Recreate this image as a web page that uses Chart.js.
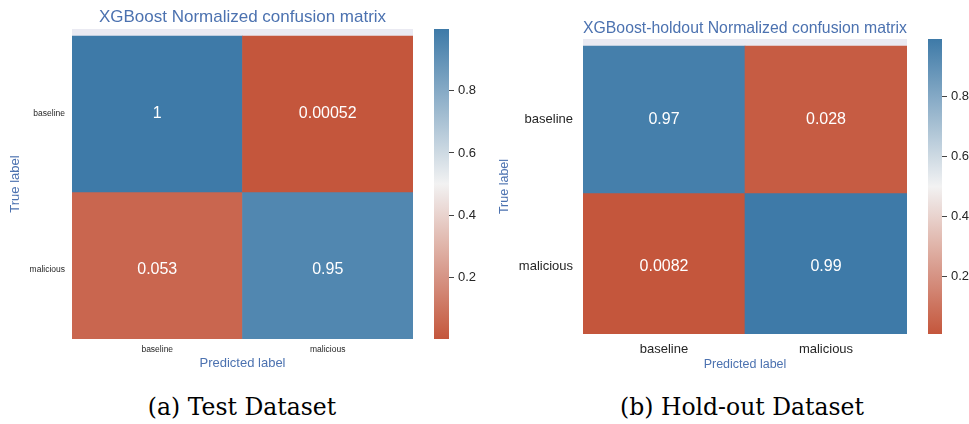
<!DOCTYPE html>
<html><head><meta charset="utf-8">
<script src="https://cdn.jsdelivr.net/npm/chart.js@4.4.1/dist/chart.umd.min.js"></script>
<style>
html,body{margin:0;padding:0;background:#fff;}
#wrap{position:relative;width:969px;height:424px;overflow:hidden;background:#fff;}
canvas{position:absolute;top:0;}
.cap{position:absolute;top:393px;font-family:"DejaVu Serif",serif;font-size:23.5px;color:#000;white-space:nowrap;transform:translateX(-50%);}
</style></head><body>
<div id="wrap">
<canvas id="hmA" width="413" height="380" style="left:0px"></canvas>
<canvas id="cbA" width="60" height="380" style="left:430px"></canvas>
<canvas id="hmB" width="417" height="380" style="left:490px"></canvas>
<canvas id="cbB" width="51" height="380" style="left:918px"></canvas>
<div class="cap" style="left:242px">(a) Test Dataset</div>
<div class="cap" style="left:742px">(b) Hold-out Dataset</div>
</div>
<script>
// ---- data ----
const predictedLabels = ['baseline', 'malicious'];
const trueLabels = ['baseline', 'malicious'];
const testRowBaseline = [0.99948, 0.00052];
const testRowMalicious = [0.053, 0.947];
const holdoutRowBaseline = [0.972, 0.028];
const holdoutRowMalicious = [0.0082, 0.9918];
const colorbarTicks = [0.2, 0.4, 0.6, 0.8];
const testTitle = 'XGBoost Normalized confusion matrix';
const holdoutTitle = 'XGBoost-holdout Normalized confusion matrix';

// ---- colour map (red -> light grey -> blue) ----
const cLow = [196, 86, 60], cMid = [242, 242, 242], cHigh = [62, 122, 168];
function lerp(a, b, t) { return a.map((v, i) => Math.round(v + (b[i] - v) * t)); }
function cmap(t) {
  t = Math.max(0, Math.min(1, t));
  const c = t < 0.5 ? lerp(cLow, cMid, t / 0.5) : lerp(cMid, cHigh, (t - 0.5) / 0.5);
  return 'rgb(' + c.join(',') + ')';
}
function fmt(v) { return String(Number(v.toPrecision(2))); }

const FAM = '"Liberation Sans", Arial, sans-serif';
const TITLE_BLUE = '#4c72b0';

const heatPlugin = {
  id: 'heat',
  beforeDatasetsDraw(chart) {
    const {ctx, chartArea: a} = chart;
    ctx.save();
    ctx.fillStyle = '#eaeaf2';
    ctx.fillRect(a.left, a.top, a.right - a.left, a.bottom - a.top);
    ctx.restore();
  },
  afterDatasetsDraw(chart, args, opts) {
    const {ctx} = chart;
    ctx.save();
    ctx.fillStyle = '#ffffff';
    ctx.textAlign = 'center';
    ctx.textBaseline = 'middle';
    ctx.font = opts.fontSize + 'px ' + FAM;
    chart.data.datasets.forEach((ds, i) => {
      const meta = chart.getDatasetMeta(i);
      meta.data.forEach((bar, j) => {
        const cy = (bar.y + bar.base) / 2;
        ctx.fillText(fmt(ds.values[j]), bar.x, cy);
      });
    });
    ctx.restore();
  }
};

function makeHeatmap(id, rows, cfg) {
  const all = rows.flat();
  const vmin = Math.min(...all), vmax = Math.max(...all);
  const datasets = rows.map((row, r) => ({
    label: trueLabels[r],
    values: row,
    data: row.map(() => [r, r + 1]),
    backgroundColor: row.map(v => cmap((v - vmin) / (vmax - vmin))),
    borderWidth: 0,
    borderSkipped: false,
    barPercentage: 1,
    categoryPercentage: 1,
    grouped: false,
    clip: 0
  }));
  new Chart(document.getElementById(id), {
    type: 'bar',
    data: {labels: predictedLabels, datasets},
    options: {
      responsive: false, animation: false, devicePixelRatio: 1,
      layout: {padding: 0},
      plugins: {
        legend: {display: false}, tooltip: {enabled: false},
        title: {display: true, text: cfg.title, color: TITLE_BLUE, fullSize: false,
          font: {family: FAM, size: cfg.titleSize, weight: 'normal', lineHeight: 1.0},
          padding: {top: cfg.titlePadTop, bottom: cfg.titlePadBottom}},
        heat: {fontSize: cfg.annotSize}
      },
      scales: {
        x: {
          grid: {display: false, drawTicks: false}, border: {display: false},
          ticks: {color: '#262626', padding: cfg.xTickPad, font: {family: FAM, size: cfg.tickSize}},
          title: {display: true, text: 'Predicted label', color: TITLE_BLUE,
            font: {family: FAM, size: cfg.axisTitleSize}, padding: {top: 0, bottom: cfg.xTitlePad}},
          afterFit(s) { s.height = cfg.xAxisHeight; }
        },
        y: {
          type: 'linear', reverse: true, min: cfg.yMin, max: cfg.yMax,
          grid: {display: false, drawTicks: false}, border: {display: false},
          afterBuildTicks(s) { s.ticks = [{value: 0.5}, {value: 1.5}]; },
          ticks: {color: '#262626', padding: cfg.yTickPad, font: {family: FAM, size: cfg.tickSize},
            callback: v => trueLabels[Math.floor(v)]},
          title: {display: true, text: 'True label', color: TITLE_BLUE,
            font: {family: FAM, size: cfg.axisTitleSize}, padding: {top: cfg.yTitlePad, bottom: 0}},
          afterFit(s) { s.width = cfg.yAxisWidth; }
        }
      }
    },
    plugins: [heatPlugin]
  });
  return [vmin, vmax];
}

const cbPlugin = {
  id: 'cbar',
  beforeDatasetsDraw(chart) {
    const {ctx, chartArea: a} = chart;
    const g = ctx.createLinearGradient(0, a.bottom, 0, a.top);
    for (let k = 0; k <= 20; k++) g.addColorStop(k / 20, cmap(k / 20));
    ctx.save();
    ctx.fillStyle = g;
    ctx.fillRect(a.left, a.top, a.right - a.left, a.bottom - a.top);
    ctx.restore();
  }
};

function makeColorbar(id, range, cfg) {
  new Chart(document.getElementById(id), {
    type: 'line',
    data: {labels: [''], datasets: []},
    options: {
      responsive: false, animation: false, devicePixelRatio: 1,
      layout: {padding: {left: cfg.padLeft, top: cfg.padTop, bottom: cfg.padBottom, right: 0}},
      plugins: {legend: {display: false}, tooltip: {enabled: false}},
      scales: {
        x: {display: false},
        y: {
          position: 'right', min: range[0], max: range[1],
          afterBuildTicks(s) { s.ticks = colorbarTicks.map(v => ({value: v})); },
          grid: {drawOnChartArea: false, drawTicks: true, tickLength: 5, color: '#444', lineWidth: 1},
          border: {display: false},
          ticks: {color: '#262626', padding: 4, font: {family: FAM, size: 13}, callback: v => v.toFixed(1)},
          afterFit(s) { s.width = cfg.axisWidth; }
        }
      }
    },
    plugins: [cbPlugin]
  });
}

const rangeA = makeHeatmap('hmA', [testRowBaseline, testRowMalicious], {
  title: testTitle, titleSize: 17, titlePadTop: 9, titlePadBottom: 3,
  annotSize: 16, tickSize: 8.5, axisTitleSize: 13,
  xTickPad: 6, xTitlePad: 9, xAxisHeight: 41,
  yTickPad: 7, yTitlePad: 8, yAxisWidth: 72, yMin: -0.045, yMax: 1.942
});
makeColorbar('cbA', rangeA, {padLeft: 4, padTop: 29, padBottom: 41, axisWidth: 41});

const rangeB = makeHeatmap('hmB', [holdoutRowBaseline, holdoutRowMalicious], {
  title: holdoutTitle, titleSize: 16.5, titlePadTop: 20, titlePadBottom: 2.5,
  annotSize: 16, tickSize: 13, axisTitleSize: 12.5,
  xTickPad: 8, xTitlePad: 8, xAxisHeight: 46,
  yTickPad: 10, yTitlePad: 7, yAxisWidth: 93, yMin: -0.048, yMax: 1.959
});
makeColorbar('cbB', rangeB, {padLeft: 10, padTop: 39, padBottom: 46, axisWidth: 27});
</script>
</body></html>
